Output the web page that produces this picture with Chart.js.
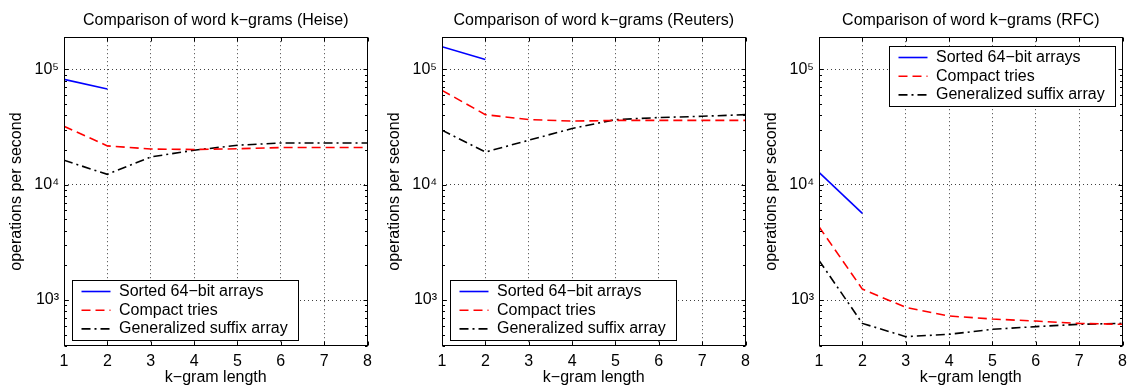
<!DOCTYPE html>
<html><head><meta charset="utf-8">
<script src="https://cdn.jsdelivr.net/npm/chart.js@4.4.1/dist/chart.umd.min.js"></script>
<style>
html,body{margin:0;padding:0;background:#fff;width:1133px;height:389px;overflow:hidden}
.p{position:absolute;top:0;width:378px;height:389px}
canvas{display:block}
</style></head><body>
<div class="p" style="left:0"><canvas id="c0" width="378" height="389"></canvas></div>
<div class="p" style="left:378px"><canvas id="c1" width="378" height="389"></canvas></div>
<div class="p" style="left:755px"><canvas id="c2" width="378" height="389"></canvas></div>
<script>
// ---- data ----
const kgramLengths = [1, 2, 3, 4, 5, 6, 7, 8];
const seriesNames = ['Sorted 64\u2212bit arrays', 'Compact tries', 'Generalized suffix array'];
const corpora = ['Heise', 'Reuters', 'RFC'];

const heiseSorted  = [81900, 67500];
const heiseTries   = [32100, 21700, 20400, 20200, 20500, 21000, 21000, 21000];
const heiseSuffix  = [16300, 12300, 17400, 19900, 22000, 23000, 23000, 23000];

const reutersSorted = [157000, 122000];
const reutersTries  = [65800, 40500, 36700, 35600, 36100, 36100, 36100, 36100];
const reutersSuffix = [29700, 19200, 24300, 30700, 36700, 38200, 39200, 40500];

const rfcSorted = [12800, 5640];
const rfcTries  = [4320, 1245, 865, 728, 685, 658, 628, 617];
const rfcSuffix = [2210, 628, 482, 505, 558, 589, 617, 628];

const yTickValues = [1e3, 1e4, 1e5];
const yTickLabels = ['10\u00b3', '10\u2074', '10\u2075'];
const xTickValues = [1, 2, 3, 4, 5, 6, 7, 8];
const xTickLabels = ['1', '2', '3', '4', '5', '6', '7', '8'];

const titleText = 'Comparison of word k\u2212grams';
const xTitle = 'k\u2212gram length';
const yTitle = 'operations per second';

const panels = [
  { sorted: heiseSorted, tries: heiseTries, suffix: heiseSuffix, legend: 'bl' },
  { sorted: reutersSorted, tries: reutersTries, suffix: reutersSuffix, legend: 'bl' },
  { sorted: rfcSorted, tries: rfcTries, suffix: rfcSuffix, legend: 'tr' }
];

// ---- styles ----
const FONT = '"Liberation Sans", Arial, Helvetica, sans-serif';
const styles = [
  { color: '#0000ff', dash: [] },
  { color: '#ff0000', dash: [9, 5] },
  { color: '#000000', dash: [9, 4, 2, 4] }
];

const pts = (vals) => vals.map((v, i) => ({ x: kgramLengths[i], y: v }));

const framePlugin = {
  id: 'frame',
  afterDraw(chart, args, opts) {
    const ctx = chart.ctx;
    const a = chart.chartArea;
    const xs = chart.scales.x, ys = chart.scales.y;
    const L = Math.round(a.left) + 0.5, R = Math.round(a.right) - 0.5;
    const T = Math.round(a.top) + 0.5, B = Math.round(a.bottom) - 0.5;
    ctx.save();
    ctx.strokeStyle = '#000';
    ctx.lineWidth = 1;
    ctx.setLineDash([]);
    ctx.beginPath();
    // x major ticks (inside, top & bottom)
    xTickValues.forEach(v => {
      const px = Math.round(xs.getPixelForValue(v)) + 0.5;
      ctx.moveTo(px, B); ctx.lineTo(px, B - 4);
      ctx.moveTo(px, T); ctx.lineTo(px, T + 4);
    });
    // y major + minor ticks (inside, left & right)
    for (let e = 2; e <= 5; e++) {
      for (let m = 1; m <= 9; m++) {
        const v = m * Math.pow(10, e);
        if (v < ys.min || v > ys.max) continue;
        const py = Math.round(ys.getPixelForValue(v)) + 0.5;
        const len = m === 1 ? 4 : 2.5;
        ctx.moveTo(L, py); ctx.lineTo(L + len, py);
        ctx.moveTo(R, py); ctx.lineTo(R - len, py);
      }
    }
    ctx.stroke();
    ctx.strokeRect(L, T, R - L, B - T);

    // legend
    const W = 226, H = 60;
    let x0, y0;
    if (opts.corner === 'tr') { x0 = a.right - 7.5 - W; y0 = a.top + 9; }
    else { x0 = a.left + 7.5; y0 = a.bottom - 6.5 - H; }
    x0 = Math.round(x0) + 0.5; y0 = Math.round(y0) + 0.5;
    ctx.fillStyle = '#fff';
    ctx.fillRect(x0, y0, W, H);
    ctx.strokeStyle = '#000';
    ctx.strokeRect(x0, y0, W, H);
    ctx.font = '16px ' + FONT;
    ctx.textBaseline = 'middle';
    ctx.textAlign = 'left';
    chart.data.datasets.forEach((ds, i) => {
      const y = y0 + 11 + i * 18.7;
      ctx.save();
      ctx.strokeStyle = ds.borderColor;
      ctx.lineWidth = ds.borderWidth;
      ctx.setLineDash(ds.borderDash || []);
      ctx.beginPath();
      ctx.moveTo(x0 + 9, y); ctx.lineTo(x0 + 38, y);
      ctx.stroke();
      ctx.restore();
      ctx.fillStyle = '#000';
      ctx.fillText(ds.label, x0 + 46.5, y);
    });
    ctx.restore();
  }
};

panels.forEach((p, idx) => {
  const seriesVals = [p.sorted, p.tries, p.suffix];
  const datasets = seriesVals.map((vals, i) => ({
    label: seriesNames[i],
    data: pts(vals),
    borderColor: styles[i].color,
    backgroundColor: styles[i].color,
    borderDash: styles[i].dash,
    borderWidth: 1.6,
    pointRadius: 0,
    tension: 0,
    fill: false
  }));
  new Chart(document.getElementById('c' + idx), {
    type: 'line',
    data: { datasets },
    plugins: [framePlugin],
    options: {
      responsive: false,
      animation: false,
      devicePixelRatio: 1,
      layout: { padding: { left: 0, right: 6, top: 0, bottom: 0 } },
      plugins: {
        legend: { display: false },
        tooltip: { enabled: false },
        title: {
          display: true,
          text: titleText + ' (' + corpora[idx] + ')',
          fullSize: false,
          color: '#000',
          font: { family: FONT, size: 16, weight: 'normal' },
          padding: { top: 11, bottom: 7 }
        },
        frame: { corner: p.legend }
      },
      scales: {
        x: {
          type: 'linear',
          min: 1, max: 8,
          afterFit: s => { s.height = 43; },
          afterBuildTicks: s => { s.ticks = xTickValues.map(v => ({ value: v })); },
          ticks: {
            color: '#000',
            font: { family: FONT, size: 16 },
            padding: 6,
            maxRotation: 0,
            callback: (v) => xTickLabels[xTickValues.indexOf(v)]
          },
          grid: { color: 'rgba(0,0,0,0.75)', drawTicks: false, lineWidth: 1 },
          border: { display: false, dash: [1, 3] },
          title: { display: true, text: xTitle, color: '#000',
                   font: { family: FONT, size: 16 }, padding: { top: 0, bottom: 2 } }
        },
        y: {
          type: 'logarithmic',
          min: 400, max: 190000,
          afterFit: s => { s.width = 64; },
          afterBuildTicks: s => { s.ticks = yTickValues.map(v => ({ value: v })); },
          ticks: {
            color: '#000',
            font: { family: FONT, size: 16 },
            padding: 5,
            callback: (v) => yTickLabels[yTickValues.indexOf(v)]
          },
          grid: { color: 'rgba(0,0,0,0.75)', drawTicks: false, lineWidth: 1 },
          border: { display: false, dash: [1, 3] },
          title: { display: true, text: yTitle, color: '#000',
                   font: { family: FONT, size: 16 }, padding: { top: 7, bottom: 0 } }
        }
      }
    }
  });
});
</script>
</body></html>
